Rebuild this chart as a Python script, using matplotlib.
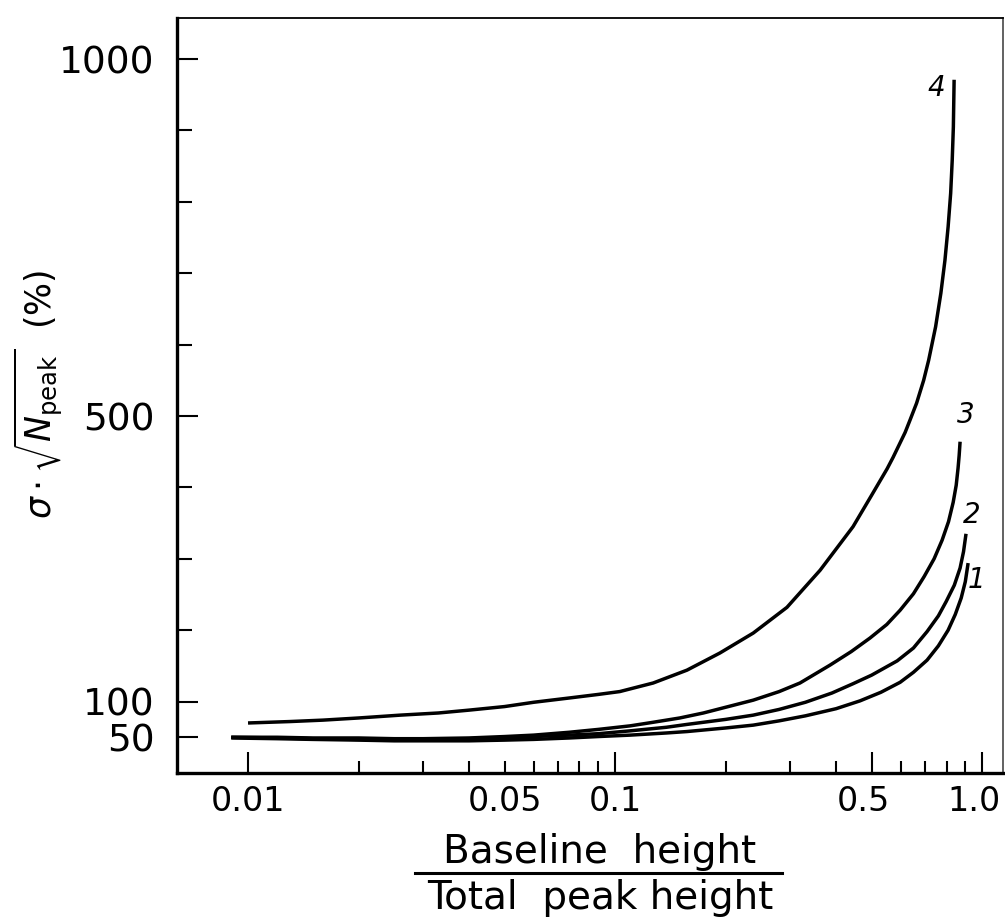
import matplotlib
matplotlib.use("Agg")
import matplotlib.pyplot as plt
from matplotlib.lines import Line2D
from matplotlib.transforms import ScaledTranslation

# values
x1 = [0.009, 0.012, 0.015, 0.02, 0.025, 0.03, 0.04, 0.05, 0.06, 0.075, 0.09, 0.11, 0.138, 0.157, 0.2,
      0.238, 0.28, 0.33, 0.4, 0.465, 0.53, 0.598, 0.65, 0.708, 0.76, 0.808, 0.845, 0.877, 0.90, 0.916]
y1 = [49, 48, 47, 46, 45, 45, 45, 46, 47, 49, 51, 53, 56, 58, 63,
      67, 73, 80, 90, 101, 113, 127, 141, 158, 178, 200, 222, 245, 268, 294]

x2 = [0.009, 0.012, 0.015, 0.02, 0.025, 0.03, 0.04, 0.05, 0.06, 0.075, 0.09, 0.11, 0.138, 0.157, 0.2,
      0.238, 0.28, 0.33, 0.39, 0.445, 0.50, 0.587, 0.65, 0.708, 0.76, 0.798, 0.84, 0.871, 0.89, 0.904]
y2 = [50, 49, 48, 47, 47, 47, 48, 49, 51, 53, 55, 59, 64, 68, 75,
      81, 89, 99, 112, 125, 137, 157, 175, 198, 220, 240, 263, 287, 310, 335]

x3 = [0.009, 0.012, 0.015, 0.02, 0.025, 0.03, 0.04, 0.05, 0.06, 0.075, 0.09, 0.11, 0.127, 0.15, 0.174,
      0.2, 0.238, 0.28, 0.319, 0.385, 0.44, 0.495, 0.55, 0.598, 0.65, 0.695, 0.74, 0.778, 0.81,
      0.834, 0.85, 0.86, 0.866, 0.871]
y3 = [50, 50, 49, 49, 48, 48, 49, 51, 53, 57, 61, 66, 71, 77, 84,
      92, 102, 114, 126, 151, 170, 189, 208, 228, 251, 275, 300, 326, 352,
      379, 403, 427, 445, 464]

x4 = [0.01, 0.013, 0.016, 0.02, 0.026, 0.033, 0.04, 0.05, 0.06, 0.075, 0.09, 0.103, 0.127, 0.157,
      0.193, 0.238, 0.294, 0.362, 0.445, 0.50, 0.551, 0.572, 0.617, 0.637, 0.663, 0.693, 0.715,
      0.747, 0.772, 0.792, 0.808, 0.821, 0.829, 0.835, 0.839]
y4 = [70, 72, 74, 77, 81, 84, 88, 93, 99, 105, 110, 114, 126, 144,
      168, 196, 232, 284, 345, 389, 426, 442, 477, 495, 518, 550, 578,
      625, 672, 718, 765, 812, 858, 905, 971]

curves = [(x1, y1, "1"), (x2, y2, "2"), (x3, y3, "3"), (x4, y4, "4")]
label_pos = {"1": (0.965, 270), "2": (0.935, 362), "3": (0.90, 502), "4": (0.75, 960)}

y_ticks = [50, 100, 500, 1000]
y_minor = [200, 300, 400, 600, 700, 800, 900]
x_ticks = [0.01, 0.1, 0.5, 1.0]
x_ticklabels = ["0.01", "0.1", "0.5", "1.0"]
x_minor = [0.02, 0.03, 0.04, 0.05, 0.06, 0.07, 0.08, 0.09, 0.2, 0.3, 0.4, 0.6, 0.7, 0.8, 0.9]

fig = plt.figure(figsize=(10.05, 9.18), dpi=100)
ax = fig.add_axes([0.176, 0.158, 0.822, 0.822])

for xs, ys, name in curves:
    ax.plot(xs, ys, color="black", lw=2.5, solid_capstyle="butt", solid_joinstyle="round")
    lx, ly = label_pos[name]
    ax.text(lx, ly, name, fontsize=20, style="italic", ha="center", va="center")

ax.set_xscale("log")
ax.set_xlim(0.0064, 1.14)
ax.set_ylim(0, 1057)

ax.set_xticks(x_ticks, labels=x_ticklabels)
ax.set_xticks(x_minor, labels=["0.05" if v == 0.05 else "" for v in x_minor], minor=True)
ax.set_yticks(y_ticks, labels=[str(v) for v in y_ticks])
ax.set_yticks(y_minor, minor=True)

ax.tick_params(axis="both", which="both", direction="in", width=1.5)
ax.tick_params(axis="x", which="both", labelsize=24)
ax.tick_params(axis="x", which="major", length=15, pad=9)
ax.tick_params(axis="x", which="minor", length=9, pad=9)
ax.tick_params(axis="y", which="major", length=15, pad=16, labelsize=27)
ax.tick_params(axis="y", which="minor", length=11)

# labels 0.5 and 1.0 sit a little left of their ticks
for lab in ax.get_xticklabels()[2:]:
    lab.set_transform(lab.get_transform() + ScaledTranslation(-6 / 72, 0, fig.dpi_scale_trans))

ax.spines["left"].set_linewidth(2.4)
ax.spines["bottom"].set_linewidth(2.4)
ax.spines["top"].set_linewidth(1.3)
ax.spines["right"].set_linewidth(1.3)
ax.spines["right"].set_color("#555555")

fig.text(0.038, 0.57, r"$\sigma\cdot\sqrt{N_{\rm peak}}$  (%)", fontsize=25,
         rotation=90, ha="center", va="center")

# fraction label under the x axis
fig.text(0.597, 0.072, "Baseline  height", fontsize=28, ha="center", va="center")
fig.add_artist(Line2D([0.413, 0.778], [0.049, 0.049], color="black", lw=2.2,
                      transform=fig.transFigure))
fig.text(0.597, 0.022, "Total  peak height", fontsize=28, ha="center", va="center")

fig.savefig("out.png", dpi=100)
